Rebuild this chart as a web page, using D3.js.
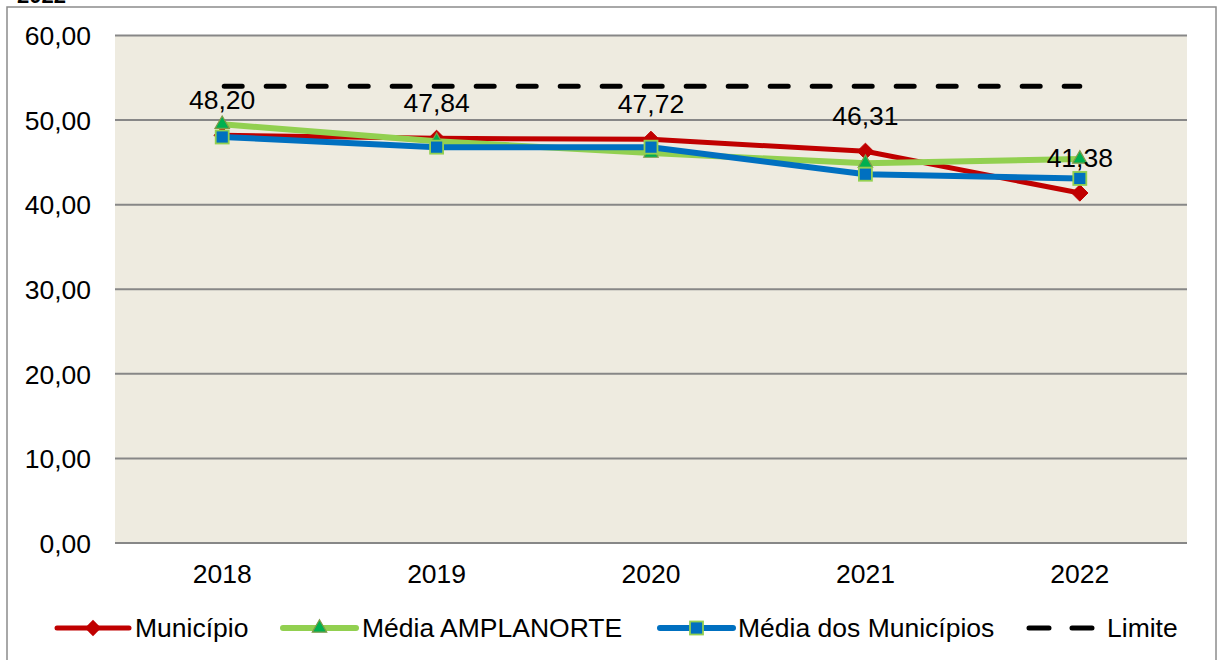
<!DOCTYPE html>
<html><head><meta charset="utf-8">
<script src="https://cdn.jsdelivr.net/npm/d3@7"></script>
<style>body{margin:0;background:#fff}svg{display:block;font-family:"Liberation Sans",Arial,sans-serif}</style>
</head><body>
<svg id="c" width="1221" height="660"></svg>
<script>
const years = ["2018","2019","2020","2021","2022"];
const municipio = [48.20, 47.84, 47.72, 46.31, 41.38];
const amplanorte = [49.5, 47.5, 46.1, 44.9, 45.4];
const mediaMunicipios = [48.0, 46.8, 46.8, 43.6, 43.1];
const limite = [54, 54, 54, 54, 54];
const yTicks = [0, 10, 20, 30, 40, 50, 60];
const labels = ["48,20","47,84","47,72","46,31","41,38"];
const seriesNames = ["Município","Média AMPLANORTE","Média dos Municípios","Limite"];

const svg = d3.select("#c");
const L = 115, R = 1187, T = 35.5, B = 543;
const x = d3.scaleBand().domain(years).range([L, R]);
const y = d3.scaleLinear().domain([0, 60]).range([B, T]);
const cx = d => x(d) + x.bandwidth() / 2;
const fmt = v => d3.format(".2f")(v).replace(".", ",");
const FS = 26.5;

// title remnant (cut off at the top, as in the reference)
svg.append("text").attr("x", 17).attr("y", 3).attr("font-size", 22).attr("font-weight", "bold").text("2022");
// chart border
svg.append("rect").attr("x", 7).attr("y", 7).attr("width", 1209).attr("height", 700)
  .attr("fill", "none").attr("stroke", "#8c8c8c").attr("stroke-width", 1.5);
// plot bg
svg.append("rect").attr("x", L).attr("y", T).attr("width", R - L).attr("height", B - T).attr("fill", "#EEEBE0");

// grid
svg.append("g").selectAll("line").data(yTicks).join("line")
  .attr("x1", L).attr("x2", R).attr("y1", d => y(d)).attr("y2", d => y(d))
  .attr("stroke", "#878787").attr("stroke-width", 2);

// y axis labels
const yAxis = d3.axisLeft(y).tickValues(yTicks).tickFormat(fmt).tickSize(0).tickPadding(0);
const gy = svg.append("g").attr("transform", `translate(91,0)`).call(yAxis);
gy.select(".domain").remove();
gy.selectAll("text").attr("font-size", FS).attr("font-family", "Liberation Sans, Arial").attr("fill", "#000").attr("dy", "0.35em");

// x axis labels
const xAxis = d3.axisBottom(x).tickSize(0).tickPadding(0);
const gx = svg.append("g").attr("transform", `translate(0,${B})`).call(xAxis);
gx.select(".domain").remove();
gx.selectAll("text").attr("font-size", FS).attr("font-family", "Liberation Sans, Arial").attr("fill", "#000").attr("dy", 0).attr("y", 40);

const line = d3.line().x((d, i) => cx(years[i])).y(d => y(d));

// series
svg.append("path").datum(municipio).attr("d", line).attr("fill", "none").attr("stroke", "#C00000").attr("stroke-width", 5).attr("stroke-linejoin", "round");
svg.append("g").selectAll("path").data(municipio).join("path")
  .attr("d", d3.symbol(d3.symbolDiamond2, 170)).attr("transform", (d, i) => `translate(${cx(years[i])},${y(d)})`)
  .attr("fill", "#C00000").attr("stroke", "#C00000").attr("stroke-width", 1);

svg.append("path").datum(amplanorte).attr("d", line).attr("fill", "none").attr("stroke", "#92D050").attr("stroke-width", 6).attr("stroke-linejoin", "round");
svg.append("g").selectAll("path").data(amplanorte).join("path")
  .attr("d", d3.symbol(d3.symbolTriangle, 90)).attr("transform", (d, i) => `translate(${cx(years[i])},${y(d)})`)
  .attr("fill", "#00B050").attr("stroke", "#7f9a48").attr("stroke-width", 1.2);

svg.append("path").datum(mediaMunicipios).attr("d", line).attr("fill", "none").attr("stroke", "#0070C0").attr("stroke-width", 6).attr("stroke-linejoin", "round");
svg.append("g").selectAll("rect").data(mediaMunicipios).join("rect")
  .attr("x", (d, i) => cx(years[i]) - 6.5).attr("y", d => y(d) - 6.5).attr("width", 13).attr("height", 13)
  .attr("fill", "#0070C0").attr("stroke", "#92D050").attr("stroke-width", 1.8);

svg.append("path").datum(limite).attr("d", line).attr("fill", "none").attr("stroke", "#000").attr("stroke-width", 5)
  .attr("stroke-dasharray", "18,24").attr("stroke-linecap", "round").attr("stroke-dashoffset", -2);

// data labels
svg.append("g").selectAll("text").data(municipio).join("text")
  .attr("x", (d, i) => cx(years[i])).attr("y", d => y(d) - 26).attr("text-anchor", "middle")
  .attr("font-size", FS).text((d, i) => labels[i]);

// legend
const lg = svg.append("g");
const ly = 628;
const items = [
  {x1: 57, x2: 129, tx: 135, color: "#C00000", w: 5, mk: "diamond"},
  {x1: 283, x2: 356, tx: 362, color: "#92D050", w: 6, mk: "tri"},
  {x1: 660, x2: 733, tx: 738, color: "#0070C0", w: 6, mk: "sq"},
  {x1: 1029, x2: 1095, tx: 1107, color: "#000", w: 5, mk: "dash"}
];
items.forEach((it, i) => {
  const l = lg.append("line").attr("x1", it.x1).attr("x2", it.x2).attr("y1", ly).attr("y2", ly)
    .attr("stroke", it.color).attr("stroke-width", it.w).attr("stroke-linecap", "round");
  if (it.mk === "dash") l.attr("stroke-dasharray", "20,23");
  const mx = (it.x1 + it.x2) / 2;
  if (it.mk === "diamond") lg.append("path").attr("d", d3.symbol(d3.symbolDiamond2, 170)).attr("transform", `translate(${mx},${ly})`).attr("fill", "#C00000");
  if (it.mk === "tri") lg.append("path").attr("d", d3.symbol(d3.symbolTriangle, 90)).attr("transform", `translate(${mx},${ly})`).attr("fill", "#00B050").attr("stroke", "#7f9a48").attr("stroke-width", 1.2);
  if (it.mk === "sq") lg.append("rect").attr("x", mx - 6.5).attr("y", ly - 6.5).attr("width", 13).attr("height", 13).attr("fill", "#0070C0").attr("stroke", "#92D050").attr("stroke-width", 1.8);
  lg.append("text").attr("x", it.tx).attr("y", ly).attr("dy", "0.35em").attr("font-size", FS).text(seriesNames[i]);
});
</script>
</body></html>
